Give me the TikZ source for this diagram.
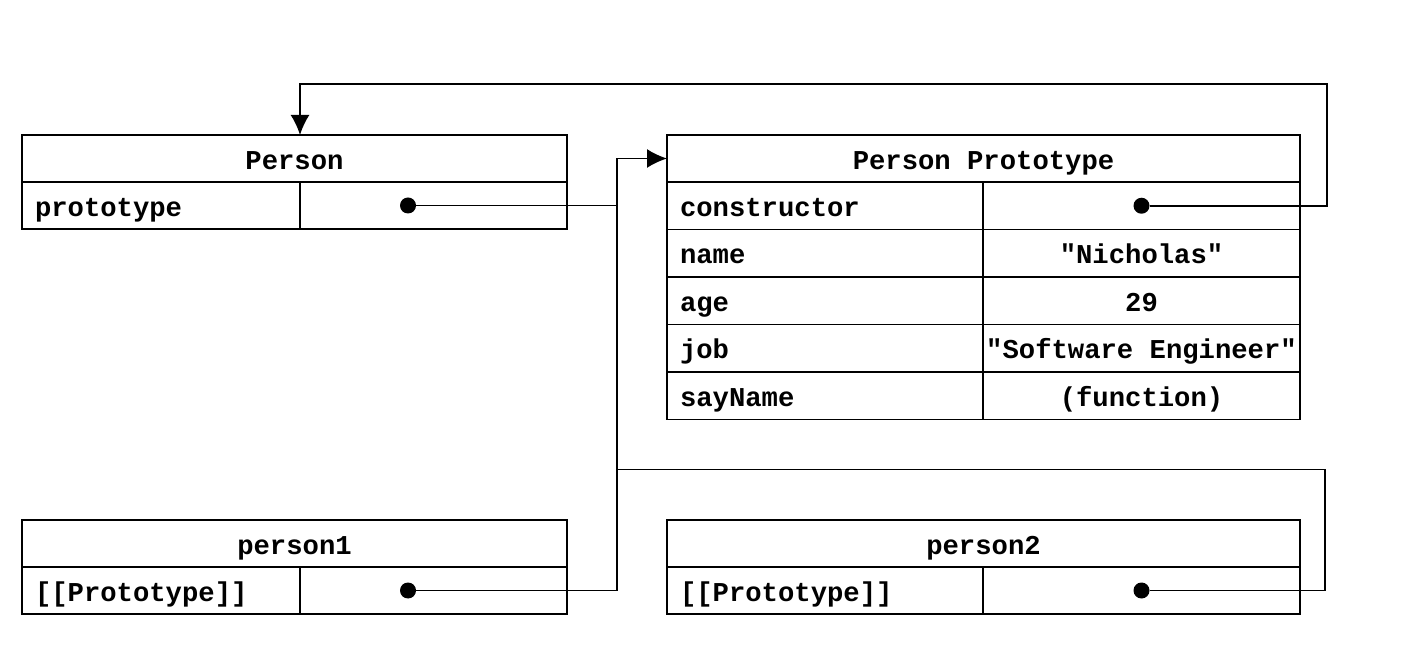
\documentclass[tikz,border=0pt]{standalone}
\usepackage{fontspec}
\setmonofont{Liberation Mono}
\usetikzlibrary{arrows.meta,positioning}

\begin{document}
\begin{tikzpicture}[
    cell/.style={draw,line width=1.1pt,inner sep=0pt,outer sep=0pt,anchor=north west,
      minimum height=0.94cm,text height=13pt,text depth=1pt,
      font=\ttfamily\bfseries\fontsize{15.5}{18}\selectfont},
    hdr/.style={cell,minimum width=#1},
    key/.style={cell,text width=#1,inner xsep=0.26cm,align=left},
    val/.style={cell,minimum width=#1},
    dot/.style={circle,fill,inner sep=0pt,minimum width=0.28cm,minimum height=0.32cm},
    link/.style={line width=1pt},
    ptr/.style={link,-{Latex[length=0.4cm,width=0.38cm]}}]
    \useasboundingbox (0,0) rectangle (28.44,-13.32);
    % Person
    \node[hdr=10.9cm] (ph) at (0.44,-2.70) {Person};
    \node[key=5.04cm] (pk) at (ph.south west) {prototype};
    \node[val=5.34cm,right=0pt of pk] (pv) {};
    % Person Prototype
    \node[hdr=12.66cm] (pph) at (13.34,-2.70) {Person Prototype};
    \node[key=5.80cm,minimum height=0.95cm] (kc) at (pph.south west) {constructor};
    \node[val=6.34cm,minimum height=0.95cm,right=0pt of kc] (vc) {};
    \node[key=5.80cm,minimum height=0.95cm] (kn) at (kc.south west) {name};
    \node[val=6.34cm,minimum height=0.95cm,right=0pt of kn] (vn) {"Nicholas"};
    \node[key=5.80cm,minimum height=0.95cm] (ka) at (kn.south west) {age};
    \node[val=6.34cm,minimum height=0.95cm,right=0pt of ka] (va) {29};
    \node[key=5.80cm,minimum height=0.95cm] (kj) at (ka.south west) {job};
    \node[val=6.34cm,minimum height=0.95cm,right=0pt of kj] (vj) {"Software Engineer"};
    \node[key=5.80cm,minimum height=0.95cm] (ks) at (kj.south west) {sayName};
    \node[val=6.34cm,minimum height=0.95cm,right=0pt of ks] (vs) {(function)};
    % instances
    \node[hdr=10.9cm] (p1h) at (0.44,-10.40) {person1};
    \node[key=5.04cm] (p1k) at (p1h.south west) {[[Prototype]]};
    \node[val=5.34cm,right=0pt of p1k] (p1v) {};
    \node[hdr=12.66cm] (p2h) at (13.34,-10.40) {person2};
    \node[key=5.80cm] (p2k) at (p2h.south west) {[[Prototype]]};
    \node[val=6.34cm,right=0pt of p2k] (p2v) {};
    % pointers
    \node[dot] (dp) at ([xshift=-0.51cm]pv.center) {};
    \node[dot] (dc) at (vc.center) {};
    \node[dot] (d1) at ([xshift=-0.51cm]p1v.center) {};
    \node[dot] (d2) at (p2v.center) {};
    \coordinate (bus) at ([xshift=1cm]ph.east |- pph.west);
    \coordinate (top) at ([yshift=1.02cm]ph.north -| pk.east);
    \coordinate (rt) at ([xshift=0.54cm]vc.east |- top);
    \coordinate (low) at ([yshift=-1cm]bus |- vs.south);
    \coordinate (rb) at ([xshift=0.5cm]p2v.east |- low);
    \draw[ptr] (dp) -| (bus) -- (pph.west);
    \draw[link] (d1) -| (bus);
    \draw[link] (d2) -| (rb) -- (low);
    \draw[ptr] (dc) -| (rt) -- (top) -- (top |- ph.north);
\end{tikzpicture}
\end{document}
